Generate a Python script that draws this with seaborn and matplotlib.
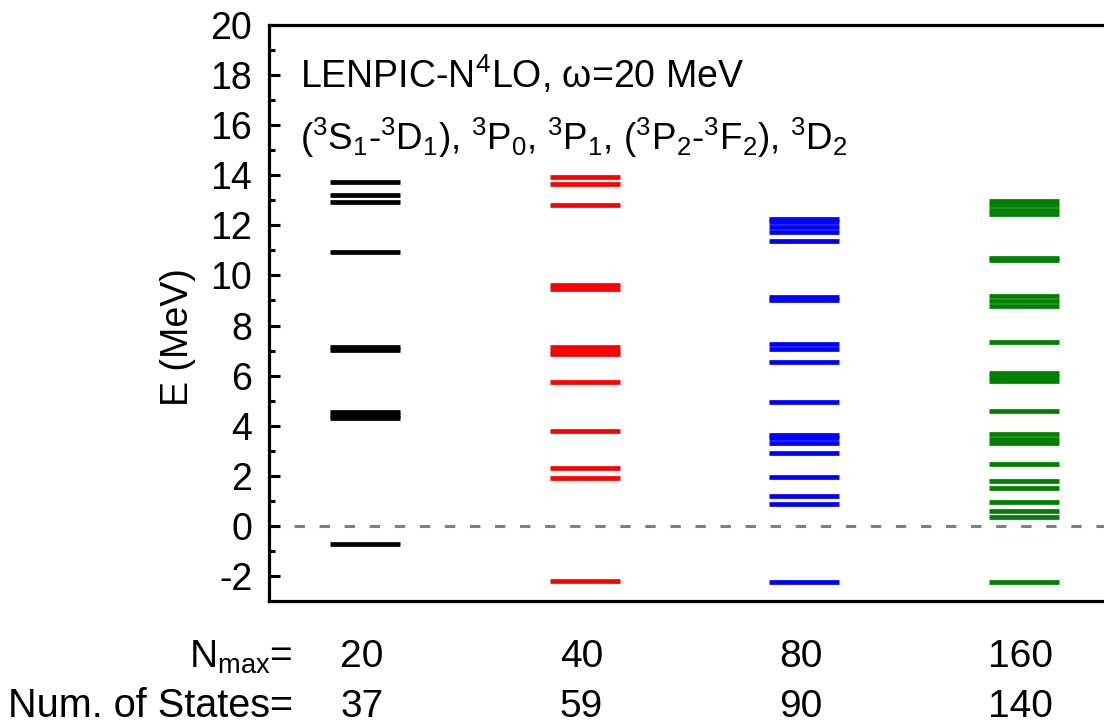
import matplotlib
matplotlib.use("Agg")
import matplotlib.pyplot as plt
import numpy as np
import pandas as pd
import seaborn as sns

# Model-space truncations and the number of states in each
nmax_values = [20, 40, 80, 160]
num_states = [37, 59, 90, 140]

# Eigen-energies (MeV) shown in the window for each Nmax
levels_nmax20 = [13.72, 13.20, 12.92, 10.92, 7.15, 7.01, 4.54, 4.42, 4.32, -0.74]
levels_nmax40 = [13.92, 13.65, 12.83, 9.60, 9.44, 7.13, 7.00, 6.87, 5.74, 3.79,
                 2.33, 1.93, -2.19]
levels_nmax80 = [12.27, 12.13, 11.92, 11.74, 11.36, 9.14, 9.00, 7.27, 7.05, 6.56,
                 4.93, 3.64, 3.50, 3.32, 2.92, 1.96, 1.21, 0.86, -2.25]
levels_nmax160 = [12.98, 12.80, 12.63, 12.46, 10.70, 10.60, 9.18, 8.98, 8.78, 7.33,
                  6.11, 5.96, 5.78, 4.59, 3.66, 3.48, 3.30, 2.49, 1.80, 1.52,
                  0.97, 0.58, 0.37, -2.25]

level_colors = ["black", "red", "blue", "green"]

all_levels = [levels_nmax20, levels_nmax40, levels_nmax80, levels_nmax160]
df = pd.DataFrame({
    "column": np.concatenate([[i + 1] * len(lv) for i, lv in enumerate(all_levels)]),
    "Nmax": np.concatenate([[n] * len(lv) for n, lv in zip(nmax_values, all_levels)]),
    "E": np.concatenate(all_levels),
})

sns.set_style("ticks")
plt.rcParams["font.family"] = ["Liberation Sans", "DejaVu Sans"]
plt.rcParams["mathtext.default"] = "regular"
plt.rcParams["axes.unicode_minus"] = False
for key in ["text.color", "axes.labelcolor", "axes.edgecolor", "xtick.color", "ytick.color"]:
    plt.rcParams[key] = "black"

W, H = 1104, 727
fig = plt.figure(figsize=(W / 100, H / 100), dpi=100)

# axes box in pixels: left 269, top 25, bottom 601, right runs past the edge
left_px, top_px, bot_px = 269, 25, 601
xmin, xmax = 0.5626, 4.42
px_per_unit = 219.5
right_px = left_px + (xmax - xmin) * px_per_unit
ax = fig.add_axes([left_px / W, 1 - bot_px / H,
                   (right_px - left_px) / W, (bot_px - top_px) / H])

sns.scatterplot(data=df, x="column", y="E", hue="Nmax",
                palette=dict(zip(nmax_values, level_colors)),
                marker="_", s=50.4 ** 2, linewidth=3.4, legend=False, ax=ax)

ax.axhline(0, color="#808080", lw=2.2, ls=(0, (3.4, 4.8)), zorder=0)

ax.set_xlim(xmin, xmax)
ax.set_ylim(-3, 20)
ax.set_xticks([])
ax.set_xlabel("")
ax.set_ylabel("")
ax.set_yticks(np.arange(-2, 21, 2))
ax.set_yticks(np.arange(-3, 20, 1), minor=True)
ax.tick_params(axis="y", which="major", direction="in", length=8, width=2.2,
               labelsize=27, pad=12)
ax.tick_params(axis="y", which="minor", direction="in", length=4, width=2.2)
for side in ["left", "bottom", "top", "right"]:
    ax.spines[side].set_linewidth(2.3)
    ax.spines[side].set_visible(True)


def fx(px):
    return px / W


def fy(py):
    return 1 - py / H


fig.text(fx(178), fy(337), "E (MeV)", rotation=90, ha="center", va="center", fontsize=27)

fig.text(fx(300), fy(88), r"LENPIC-N$^4$LO, $\omega$=20 MeV", ha="left",
         va="baseline", fontsize=27)
fig.text(fx(300), fy(150),
         r"($^3$S$_1$-$^3$D$_1$), $^3$P$_0$, $^3$P$_1$, ($^3$P$_2$-$^3$F$_2$), $^3$D$_2$",
         ha="left", va="baseline", fontsize=26.5)

# row labels under the axes
fig.text(fx(293), fy(668), r"N$_{max}$=", ha="right", va="baseline", fontsize=28)
fig.text(fx(293), fy(717), "Num. of States=", ha="right", va="baseline", fontsize=28.5)
col_centers_px = [left_px + (c - xmin) * px_per_unit for c in [1, 2, 3, 4]]
for xc, n, ns in zip(col_centers_px, nmax_values, num_states):
    fig.text(fx(xc - 3), fy(667), str(n), ha="center", va="baseline", fontsize=28)
    fig.text(fx(xc - 3), fy(717), str(ns), ha="center", va="baseline", fontsize=28)

fig.savefig("out.png", dpi=100)
